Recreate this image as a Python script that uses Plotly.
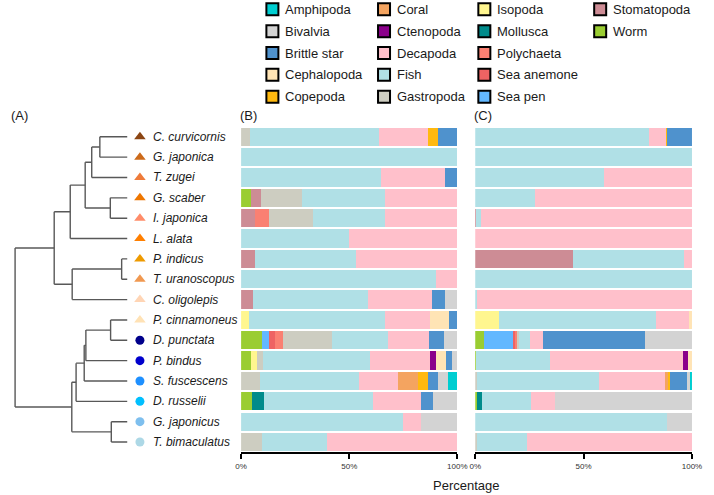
import plotly.graph_objects as go

W, H = 714, 495

species = ["C. curvicornis", "G. japonica", "T. zugei", "G. scaber", "I. japonica", "L. alata",
           "P. indicus", "T. uranoscopus", "C. oligolepis", "P. cinnamoneus", "D. punctata",
           "P. bindus", "S. fuscescens", "D. russelii", "G. japonicus", "T. bimaculatus"]
species_colors = ["#8B4513", "#CC6A1A", "#EE7B3A", "#EE7600", "#FF8C69", "#FF7F00",
                  "#EE9A00", "#F09850", "#FFD5B5", "#FFE2B5",
                  "#00008B", "#0000CD", "#1E90FF", "#00BFFF", "#7EBFEE", "#ADD8E6"]
species_symbols = ["triangle-up"] * 10 + ["circle"] * 6

# phylogeny: (node depth, children)
tree = (9.3, [
    (49.3, [
        (65.7, [
            (81.0, [
                (87.7, [(96.0, ["C. curvicornis", "G. japonica"]), "T. zugei"]),
                (106.7, ["G. scaber", "I. japonica"]),
            ]),
            "L. alata",
        ]),
        (67.7, [(118.3, ["P. indicus", "T. uranoscopus"]), "C. oligolepis"]),
    ]),
    (67.3, [
        (71.7, [
            (80.0, [
                (81.7, [(107.0, ["P. cinnamoneus", "D. punctata"]), "P. bindus"]),
                "S. fuscescens",
            ]),
            "D. russelii",
        ]),
        (107.7, ["G. japonicus", "T. bimaculatus"]),
    ]),
])
leaf_depth = 124.0

categories = ["Amphipoda", "Bivalvia", "Brittle star", "Cephalopoda", "Copepoda", "Coral",
              "Ctenopoda", "Decapoda", "Fish", "Gastropoda", "Isopoda", "Mollusca",
              "Polychaeta", "Sea anemone", "Sea pen", "Stomatopoda", "Worm"]
cat_colors = ["#00CED1", "#D3D3D3", "#4F92CD", "#FFE4B5", "#FFB90F", "#F4A460",
              "#8B008B", "#FFC0CB", "#B0E0E6", "#CDCDC1", "#FFF68F", "#008B8B",
              "#FA8072", "#EE6363", "#63B8FF", "#CD8C95", "#9ACD32"]

# Panel B (rows in species order)
B_amphipoda   = [0, 0, 0, 0, 0, 0, 0, 0, 0, 0, 0, 0, 4.5, 0, 0, 0]
B_bivalvia    = [0, 0, 0, 0, 0, 0, 0, 0, 5.9, 0, 6.3, 2.3, 4.5, 11.1, 16.7, 0]
B_brittlestar = [9.0, 0, 5.9, 0, 0, 0, 0, 0, 6.0, 4.0, 6.6, 2.9, 4.7, 5.6, 0, 0]
B_cephalopoda = [0, 0, 0, 0, 0, 0, 0, 0, 0, 8.5, 0, 4.7, 0, 0, 0, 0]
B_copepoda    = [4.7, 0, 0, 0, 0, 0, 0, 0, 0, 0, 0, 0, 4.5, 0, 0, 0]
B_coral       = [0, 0, 0, 0, 0, 0, 0, 0, 0, 0, 0, 0, 9.2, 0, 0, 0]
B_ctenopoda   = [0, 0, 0, 0, 0, 0, 0, 0, 0, 0, 0, 2.9, 0, 0, 0, 0]
B_decapoda    = [22.7, 0, 29.5, 33.4, 33.4, 50.2, 46.9, 10.1, 29.3, 20.8, 19.4, 27.4, 18.2, 22.3, 8.6, 60.3]
B_fish        = [59.6, 100, 64.6, 38.3, 33.5, 49.8, 46.8, 89.9, 53.4, 62.9, 25.9, 49.9, 45.7, 50.3, 74.7, 30.2]
B_gastropoda  = [4.0, 0, 0, 19.1, 20.0, 0, 0, 0, 0, 0, 22.6, 2.6, 8.7, 0, 0, 9.5]
B_isopoda     = [0, 0, 0, 0, 0, 0, 0, 0, 0, 3.8, 0, 2.6, 0, 0, 0, 0]
B_mollusca    = [0, 0, 0, 0, 0, 0, 0, 0, 0, 0, 0, 0, 0, 5.6, 0, 0]
B_polychaeta  = [0, 0, 0, 0, 6.8, 0, 0, 0, 0, 0, 3.3, 0, 0, 0, 0, 0]
B_seaanemone  = [0, 0, 0, 0, 0, 0, 0, 0, 0, 0, 3.2, 0, 0, 0, 0, 0]
B_seapen      = [0, 0, 0, 0, 0, 0, 0, 0, 0, 0, 3.2, 0, 0, 0, 0, 0]
B_stomatopoda = [0, 0, 0, 4.7, 6.3, 0, 6.3, 0, 5.4, 0, 0, 0, 0, 0, 0, 0]
B_worm        = [0, 0, 0, 4.5, 0, 0, 0, 0, 0, 0, 9.5, 4.7, 0, 5.1, 0, 0]

# Panel C
C_amphipoda   = [0, 0, 0, 0, 0, 0, 0, 0, 0, 0, 0, 0, 1.0, 0, 0, 0]
C_bivalvia    = [0, 0, 0, 0, 0, 0, 0, 0, 0, 0, 21.8, 0, 1.2, 63.2, 11.7, 0]
C_brittlestar = [11.3, 0, 0, 0, 0, 0, 0, 0, 0, 0, 47.1, 0, 8.0, 0, 0, 0]
C_cephalopoda = [0, 0, 0, 0, 0, 0, 0, 0, 0, 1.4, 0, 1.9, 0, 0, 0, 0]
C_copepoda    = [0.3, 0, 0, 0, 0, 0, 0, 0, 0, 0, 0, 0, 1.0, 0, 0, 0]
C_coral       = [0, 0, 0, 0, 0, 0, 0, 0, 0, 0, 0, 0, 0.8, 0, 0, 0]
C_ctenopoda   = [0, 0, 0, 0, 0, 0, 0, 0, 0, 0, 0, 2.4, 0, 0, 0, 0]
C_decapoda    = [8.0, 0, 40.8, 72.2, 97.5, 100, 3.5, 0, 99.1, 15.2, 5.9, 61.4, 31.1, 11.3, 0, 76.0]
C_fish        = [80.4, 100, 59.2, 27.8, 2.0, 0, 51.2, 100, 0.9, 72.6, 4.9, 33.8, 56.0, 22.4, 88.3, 23.3]
C_gastropoda  = [0, 0, 0, 0, 0, 0, 0, 0, 0, 0, 1.0, 0, 0.9, 0, 0, 0.7]
C_isopoda     = [0, 0, 0, 0, 0, 0, 0, 0, 0, 10.8, 0, 0, 0, 0, 0, 0]
C_mollusca    = [0, 0, 0, 0, 0, 0, 0, 0, 0, 0, 0, 0, 0, 2.4, 0, 0]
C_polychaeta  = [0, 0, 0, 0, 0, 0, 0, 0, 0, 0, 0.8, 0, 0, 0, 0, 0]
C_seaanemone  = [0, 0, 0, 0, 0, 0, 0, 0, 0, 0, 0.9, 0, 0, 0, 0, 0]
C_seapen      = [0, 0, 0, 0, 0, 0, 0, 0, 0, 0, 13.4, 0, 0, 0, 0, 0]
C_stomatopoda = [0, 0, 0, 0, 0.5, 0, 45.3, 0, 0, 0, 0, 0, 0, 0, 0, 0]
C_worm        = [0, 0, 0, 0, 0, 0, 0, 0, 0, 0, 4.2, 0.5, 0, 0.7, 0, 0]

B_values = [B_amphipoda, B_bivalvia, B_brittlestar, B_cephalopoda, B_copepoda, B_coral,
            B_ctenopoda, B_decapoda, B_fish, B_gastropoda, B_isopoda, B_mollusca,
            B_polychaeta, B_seaanemone, B_seapen, B_stomatopoda, B_worm]
C_values = [C_amphipoda, C_bivalvia, C_brittlestar, C_cephalopoda, C_copepoda, C_coral,
            C_ctenopoda, C_decapoda, C_fish, C_gastropoda, C_isopoda, C_mollusca,
            C_polychaeta, C_seaanemone, C_seapen, C_stomatopoda, C_worm]

tick_vals = [0, 50, 100]
tick_text = ["0%", "50%", "100%"]

FONT = "Liberation Sans, Arial, sans-serif"


def px_x(p):
    return p / W


def px_y(p):
    return 1 - p / H


fig = go.Figure()
rows = list(range(len(species)))

# ---- tree ----
idx = {s: i for i, s in enumerate(species)}
seg_x, seg_y = [], []


def walk(node):
    if isinstance(node, str):
        return leaf_depth, float(idx[node])
    depth, children = node
    pos = [walk(c) for c in children]
    ys = [p[1] for p in pos]
    seg_x.extend([depth, depth, None])
    seg_y.extend([min(ys), max(ys), None])
    for cx, cy in pos:
        seg_x.extend([depth, cx, None])
        seg_y.extend([cy, cy, None])
    return depth, sum(ys) / len(ys)


walk(tree)
fig.add_trace(go.Scatter(x=seg_x, y=seg_y, mode="lines", xaxis="x", yaxis="y",
                         line=dict(color="#585858", width=1.4), showlegend=False,
                         hoverinfo="skip"))
fig.add_trace(go.Scatter(x=[137] * len(species), y=rows, mode="markers", xaxis="x", yaxis="y",
                         marker=dict(color=species_colors, symbol=species_symbols,
                                     size=[10] * 10 + [9] * 6, line=dict(width=0),
                                     opacity=1),
                         showlegend=False, hoverinfo="skip"))
for i, s in enumerate(species):
    fig.add_annotation(x=148, y=i, xref="x", yref="y", text="<i>" + s + "</i>",
                       xanchor="left", yanchor="middle", showarrow=False,
                       font=dict(family=FONT, size=12, color="#1a1a1a"))

# ---- stacked bars (stack order reverse alphabetical from the left) ----
for ci in reversed(range(len(categories))):
    fig.add_trace(go.Bar(x=B_values[ci], y=rows, orientation="h", xaxis="x2", yaxis="y",
                         marker=dict(color=cat_colors[ci], line=dict(width=0)),
                         name=categories[ci], showlegend=False, width=0.9))
    fig.add_trace(go.Bar(x=C_values[ci], y=rows, orientation="h", xaxis="x3", yaxis="y",
                         marker=dict(color=cat_colors[ci], line=dict(width=0)),
                         name=categories[ci], showlegend=False, width=0.9))

# ---- legend (drawn as keys on its own axis) ----
leg_rows = 5
col_x = [272.5, 386.7, 489.3, 607.8]
row_y0, row_dy = 9.3, 21.85
lx, ly = [], []
for k, c in enumerate(categories):
    col, row = divmod(k, leg_rows)
    lx.append(col_x[col])
    ly.append(row_y0 + row * row_dy)
    fig.add_annotation(x=col_x[col] + 11, y=row_y0 + row * row_dy, xref="x4", yref="y4",
                       text=c, xanchor="left", yanchor="middle", showarrow=False,
                       font=dict(family=FONT, size=13, color="#1a1a1a"))
fig.add_trace(go.Scatter(x=lx, y=ly, mode="markers", xaxis="x4", yaxis="y4",
                         marker=dict(symbol="square", size=12, color=cat_colors, opacity=1,
                                     line=dict(color="black", width=2)),
                         showlegend=False, hoverinfo="skip"))

# ---- panel labels & axis title ----
for lab, xp in [("(A)", 3), ("(B)", 237), ("(C)", 477)]:
    fig.add_annotation(x=px_x(xp), y=px_y(116), xref="paper", yref="paper", text=lab,
                       xanchor="left", yanchor="middle", showarrow=False,
                       font=dict(family=FONT, size=13, color="#1a1a1a"))
fig.add_annotation(x=px_x(471), y=px_y(485), xref="paper", yref="paper", text="Percentage",
                   xanchor="center", yanchor="middle", showarrow=False,
                   font=dict(family=FONT, size=13, color="#1a1a1a"))

y_top, y_bot = 126.6, 452.2
bar_axis = dict(range=[0, 100], tickvals=tick_vals, ticktext=tick_text, showline=True,
                linecolor="black", linewidth=2, ticks="outside", ticklen=5, tickwidth=2,
                tickcolor="black", showgrid=False, zeroline=False, anchor="y",
                tickfont=dict(family=FONT, size=8, color="#333333"), fixedrange=True)

fig.update_layout(
    width=W, height=H, margin=dict(l=0, r=0, t=0, b=0),
    paper_bgcolor="white", plot_bgcolor="white", barmode="stack", bargap=0.1,
    showlegend=False,
    xaxis=dict(domain=[0, px_x(240)], range=[0, 240], visible=False, fixedrange=True),
    xaxis2=dict(domain=[px_x(240.5), px_x(461.7)], **bar_axis),
    xaxis3=dict(domain=[px_x(480), px_x(701.7)], **bar_axis),
    yaxis=dict(domain=[px_y(y_bot), px_y(y_top)], range=[15.5, -0.5], visible=False,
               anchor="x2", fixedrange=True),
    xaxis4=dict(domain=[0, 1], range=[0, W], visible=False, anchor="y4", fixedrange=True),
    yaxis4=dict(domain=[px_y(108), 1], range=[108, 0], visible=False, anchor="x4",
                fixedrange=True),
)

fig.write_html("out.html")
